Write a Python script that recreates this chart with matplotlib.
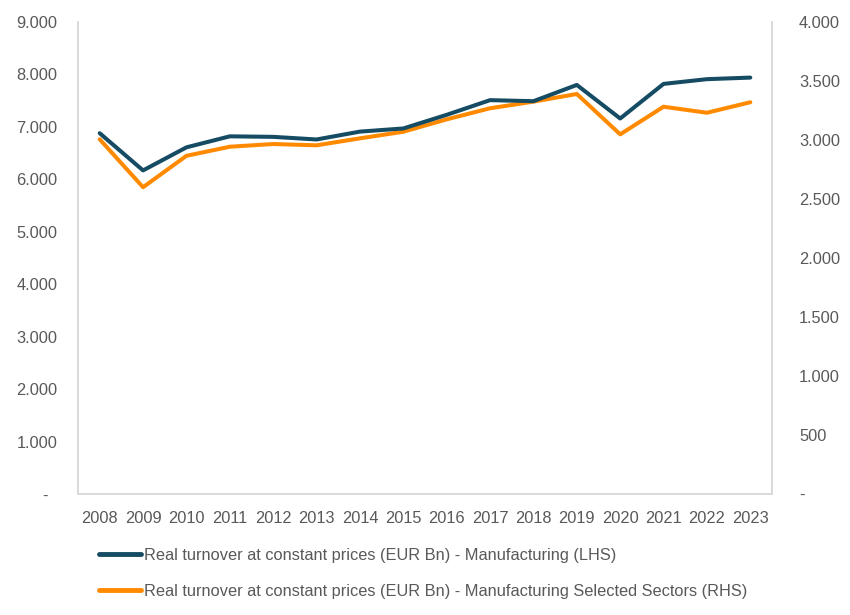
import matplotlib
matplotlib.use("Agg")
import matplotlib.pyplot as plt
from matplotlib.ticker import FixedLocator, FuncFormatter
from matplotlib.lines import Line2D

years = ["2008", "2009", "2010", "2011", "2012", "2013", "2014", "2015",
         "2016", "2017", "2018", "2019", "2020", "2021", "2022", "2023"]
manufacturing = [6880, 6170, 6610, 6820, 6810, 6760, 6910, 6970,
                 7230, 7510, 7490, 7800, 7160, 7820, 7910, 7940]
selected = [3006, 2600, 2866, 2943, 2966, 2955, 3014, 3070,
            3175, 3269, 3325, 3390, 3048, 3282, 3231, 3320]
label_lhs = "Real turnover at constant prices (EUR Bn) - Manufacturing (LHS)"
label_rhs = "Real turnover at constant prices (EUR Bn) - Manufacturing Selected Sectors (RHS)"

DARK = "#154B63"
ORANGE = "#FF8A00"
GRAY_TXT = "#595959"
GRAY_LINE = "#D9D9D9"
FONT = "Liberation Sans"
FS = 11.8

plt.rcParams["font.family"] = [FONT, "DejaVu Sans"]

fig = plt.figure(figsize=(8.5, 6.15), dpi=100)
ax = fig.add_axes([78/850, 1-494/615, (772-78)/850, (494-22)/615])
ax2 = ax.twinx()

x = list(range(len(years)))
ax.plot(x, manufacturing, color=DARK, lw=2.9, solid_capstyle="round", solid_joinstyle="round", zorder=3)
ax2.plot(x, selected, color=ORANGE, lw=2.9, solid_capstyle="round", solid_joinstyle="round", zorder=2)

ax.set_xlim(-0.5, len(years) - 0.5)
ax.set_ylim(0, 9000)
ax2.set_ylim(0, 4000)

def fmt(v, pos):
    if abs(v) < 1e-9:
        return "-"
    return f"{int(round(v)):,}".replace(",", ".")

def fmt_left(v, pos):
    if abs(v) < 1e-9:
        return "-  "
    return f"{int(round(v)):,}".replace(",", ".")

ax.yaxis.set_major_locator(FixedLocator(range(0, 9001, 1000)))
ax.yaxis.set_major_formatter(FuncFormatter(fmt_left))
ax2.yaxis.set_major_locator(FixedLocator(range(0, 4001, 500)))
ax2.yaxis.set_major_formatter(FuncFormatter(fmt))

ax.set_xticks(x)
ax.set_xticklabels(years)

for a in (ax, ax2):
    a.tick_params(axis="both", length=0, colors=GRAY_TXT, labelsize=FS)
    a.spines["top"].set_visible(False)
    for s in ("left", "right", "bottom"):
        a.spines[s].set_color(GRAY_LINE)
        a.spines[s].set_linewidth(1.2)
ax.tick_params(axis="y", pad=15)
ax2.tick_params(axis="y", pad=19.5)
ax.tick_params(axis="x", pad=12.5)
ax.set_facecolor("none")
ax2.set_zorder(0)
ax.set_zorder(1)

handles = [Line2D([0], [0], color=DARK, lw=3.5, solid_capstyle="round"),
           Line2D([0], [0], color=ORANGE, lw=3.5, solid_capstyle="round")]
leg = fig.legend(handles, [label_lhs, label_rhs], loc="upper left",
                 bbox_to_anchor=(92/850, 1-541/615), frameon=False,
                 fontsize=FS, handlelength=2.6, handletextpad=0.15,
                 labelspacing=1.28, borderaxespad=0)
for t in leg.get_texts():
    t.set_color(GRAY_TXT)

fig.savefig("out.png", dpi=100, facecolor="white")
